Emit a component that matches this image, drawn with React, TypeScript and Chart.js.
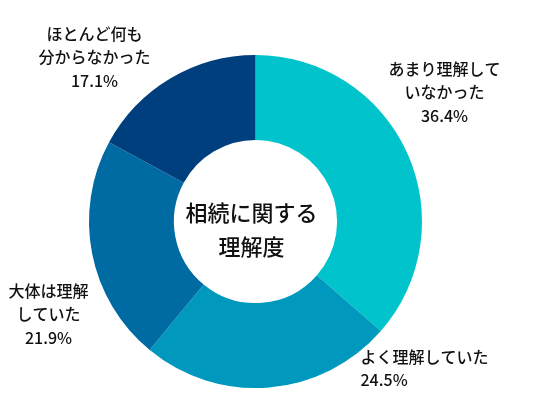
import { useEffect, useRef } from "react"
import Chart from "chart.js/auto"

const categories = ["あまり理解していなかった", "よく理解していた", "大体は理解していた", "ほとんど何も分からなかった"]
const labelLines = [
  ["あまり理解して", "いなかった"],
  ["よく理解していた"],
  ["大体は理解", "していた"],
  ["ほとんど何も", "分からなかった"],
]
const values = [36.4, 24.5, 21.9, 17.1]
const colors = ["#00C3CB", "#0099BD", "#006AA3", "#003F7E"]
const centerTitle = ["相続に関する", "理解度"]

// label anchors relative to the doughnut centre
const labelLayout = [
  { dx: 189, dy: -153, align: "center" },
  { dx: 105, dy: 135, align: "left" },
  { dx: -207, dy: 69, align: "center" },
  { dx: -161, dy: -188, align: "center" },
] as const

const FONT = '"Noto Sans CJK JP", "Noto Sans", sans-serif'

const labelPlugin = {
  id: "sliceLabels",
  afterDraw(chart: Chart) {
    const meta = chart.getDatasetMeta(0)
    const arc = meta.data[0] as any
    if (!arc) return
    const cx = arc.x
    const cy = arc.y
    const ctx = chart.ctx
    ctx.save()
    ctx.fillStyle = "#111"
    ctx.textBaseline = "middle"

    ctx.font = `500 16px ${FONT}`
    labelLayout.forEach((pos, i) => {
      const lines = [...labelLines[i], values[i].toFixed(1) + "%"]
      ctx.textAlign = pos.align
      lines.forEach((line, j) => {
        ctx.fillText(line, cx + pos.dx, cy + pos.dy + j * 23.5)
      })
    })

    ctx.font = `500 22px ${FONT}`
    ctx.textAlign = "center"
    ctx.fillText(centerTitle[0], cx - 4, cy - 9)
    ctx.fillText(centerTitle[1], cx - 4, cy + 25)
    ctx.restore()
  },
}

export default function App() {
  const canvasRef = useRef<HTMLCanvasElement>(null)

  useEffect(() => {
    if (!canvasRef.current) return
    const chart = new Chart(canvasRef.current, {
      type: "doughnut",
      data: {
        labels: categories,
        datasets: [
          {
            data: values,
            backgroundColor: colors,
            borderWidth: 0,
          },
        ],
      },
      options: {
        responsive: false,
        animation: false,
        cutout: "49%",
        layout: { padding: { top: 55, bottom: 12, left: 89, right: 111 } },
        plugins: {
          legend: { display: false },
          tooltip: { enabled: false },
        },
      },
      plugins: [labelPlugin],
    })
    return () => chart.destroy()
  }, [])

  return (
    <div style={{ position: "absolute", left: 0, top: 0, width: 533, height: 400, background: "#fff" }}>
      <canvas ref={canvasRef} width={533} height={400} />
    </div>
  )
}
